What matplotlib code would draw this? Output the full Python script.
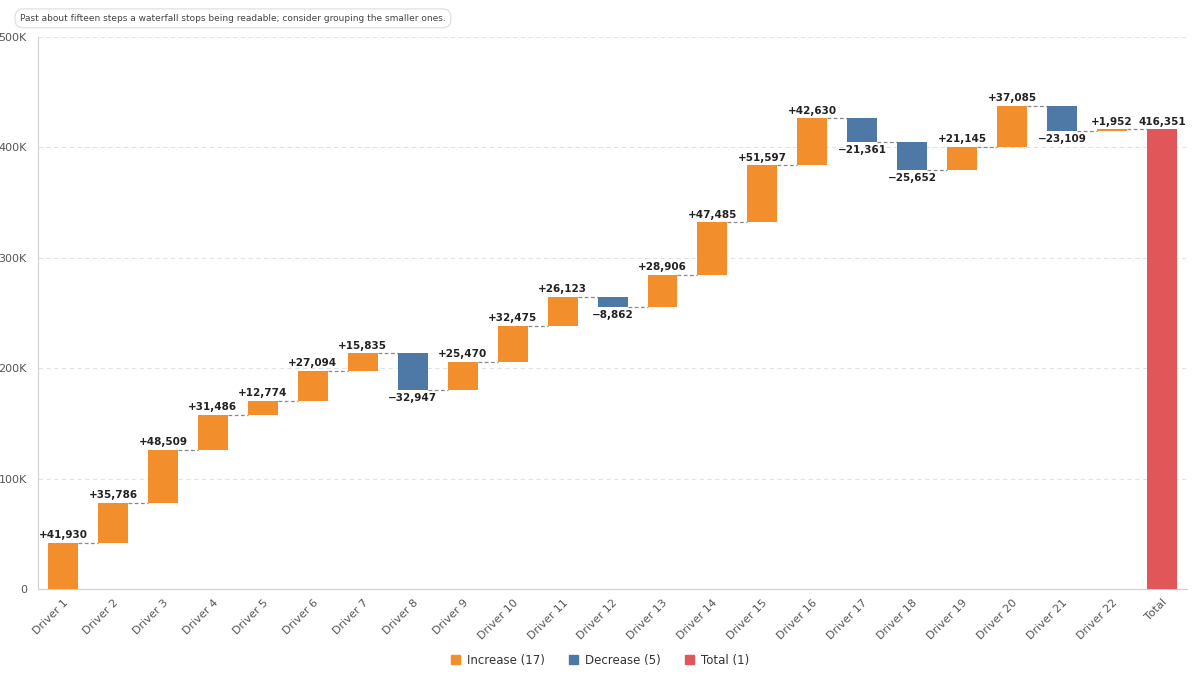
import numpy as np
from matplotlib import pyplot as plt
from matplotlib.patches import Patch

labels = ["Driver %d" % k for k in range(1, 23)] + ["Total"]
changes = [41930, 35786, 48509, 31486, 12774, 27094, 15835, -32947, 25470,
           32475, 26123, -8862, 28906, 47485, 51597, 42630, -21361, -25652,
           21145, 37085, -23109, 1952]
total = 416351

c_up = "#F28E2B"
c_down = "#4E79A7"
c_total = "#E15759"

plt.rcParams['font.family'] = ['DejaVu Sans']

fig = plt.figure(figsize=(12, 6.8), dpi=100)
ax = fig.add_axes([0.0317, 0.1338, 0.9575, 0.8118])

ends = np.cumsum(changes)
starts = ends - np.array(changes)
w = 0.6
for i, c in enumerate(changes):
    lo = min(starts[i], ends[i])
    col = c_up if c >= 0 else c_down
    ax.bar(i, abs(c), bottom=lo, width=w, color=col, zorder=3)
    if c >= 0:
        ax.text(i, ends[i] + 2500, "+{:,}".format(c), ha="center", va="bottom",
                fontsize=7.5, fontweight="bold", color="#222222", zorder=4)
    else:
        ax.text(i, ends[i] - 2500, "\u2212{:,}".format(-c), ha="center", va="top",
                fontsize=7.5, fontweight="bold", color="#222222", zorder=4)
    ax.plot([i + w / 2, i + 1 - w / 2], [ends[i], ends[i]], ls=(0, (3, 2)),
            color="#888888", lw=0.9, zorder=2)

n = len(changes)
ax.bar(n, total, width=w, color=c_total, zorder=3)
ax.text(n, total + 2500, "{:,}".format(total), ha="center", va="bottom",
        fontsize=7.5, fontweight="bold", color="#222222", zorder=4)

ax.set_xlim(-0.5, n + 0.5)
ax.set_ylim(0, 500000)
ax.set_yticks([0, 100000, 200000, 300000, 400000, 500000])
ax.set_yticklabels(["0", "100K", "200K", "300K", "400K", "500K"])
ax.set_xticks(range(n + 1))
ax.set_xticklabels(labels, rotation=45, ha="right", rotation_mode="anchor")
ax.tick_params(axis="both", length=0, labelsize=8, colors="#555555")
ax.tick_params(axis="x", pad=6)
ax.tick_params(axis="y", pad=8)
ax.grid(axis="y", ls=(0, (4, 3)), color="#e3e3e3", lw=0.8, zorder=0)
for s in ["top", "right"]:
    ax.spines[s].set_visible(False)
for s in ["left", "bottom"]:
    ax.spines[s].set_color("#d0d0d0")

fig.text(0.0167, 0.973, "Past about fifteen steps a waterfall stops being readable; consider grouping the smaller ones.",
         fontsize=6.5, color="#444444", va="center", ha="left",
         bbox=dict(boxstyle="round,pad=0.55,rounding_size=0.9", fc="white", ec="#dddddd", lw=0.8))

handles = [Patch(color=c_up, label="Increase (17)"),
           Patch(color=c_down, label="Decrease (5)"),
           Patch(color=c_total, label="Total (1)")]
fig.legend(handles=handles, loc="center", bbox_to_anchor=(0.5, 0.029), ncol=3,
           frameon=False, fontsize=8.5, handlelength=0.8, handleheight=0.8,
           columnspacing=2.0, handletextpad=0.6, labelcolor="#333333")

fig.savefig("out.png", dpi=100)
